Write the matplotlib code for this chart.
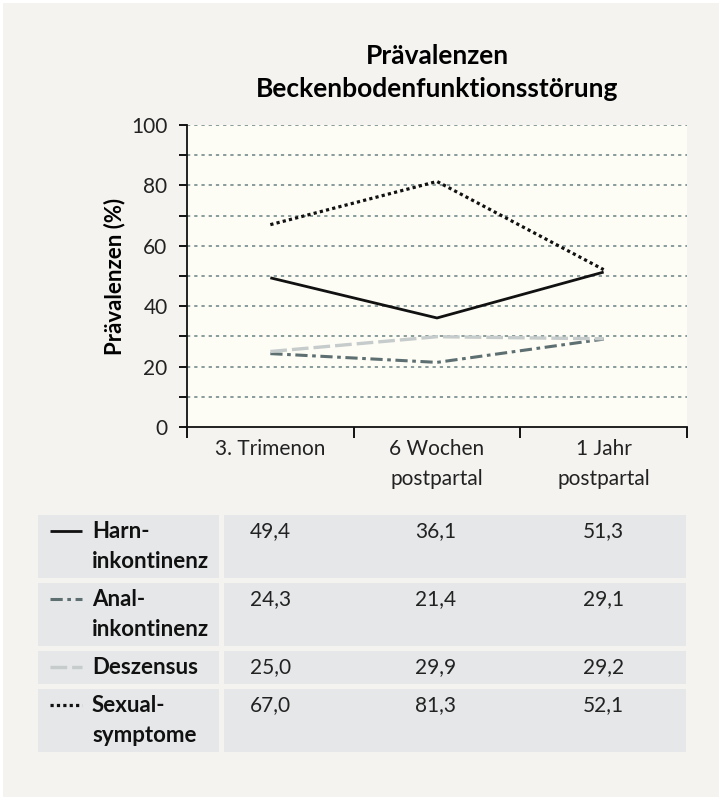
import matplotlib
matplotlib.use("Agg")
import matplotlib.pyplot as plt
from matplotlib.patches import Rectangle

plt.rcParams['font.family'] = ['Lato', 'DejaVu Sans']

# data
categories = ['3. Trimenon', '6 Wochen\npostpartal', '1 Jahr\npostpartal']
series_names = ['Harn-\ninkontinenz', 'Anal-\ninkontinenz', 'Deszensus', 'Sexual-\nsymptome']
harn = [49.4, 36.1, 51.3]
anal = [24.3, 21.4, 29.1]
deszensus = [25.0, 29.9, 29.2]
sexual = [67.0, 81.3, 52.1]

# styles per series
styles = [
    dict(color='#111111', linestyle='-', linewidth=2.0),
    dict(color='#5e6f72', linestyle=(0, (4, 1.5, 1.2, 1.5)), linewidth=2.2),
    dict(color='#c6cbcb', linestyle=(0, (5, 1.5)), linewidth=2.4),
    dict(color='#111111', linestyle=(0, (1, 1)), linewidth=2.3),
]
values = [harn, anal, deszensus, sexual]

BG = '#f4f3f0'
PLOT_BG = '#fdfdf5'
CELL = '#e5e7e8'
W, H = 722, 800

fig = plt.figure(figsize=(W / 100, H / 100), dpi=100, facecolor='white')

# full-figure canvas in pixel coordinates for background and table
canvas = fig.add_axes([0, 0, 1, 1], zorder=0)
canvas.set_xlim(0, W)
canvas.set_ylim(H, 0)
canvas.axis('off')
canvas.add_patch(Rectangle((3, 3), W - 6, H - 6, facecolor=BG, edgecolor='none'))

# chart
ax = fig.add_axes([187 / W, 1 - 427 / H, 500 / W, 302 / H], zorder=1)
ax.set_facecolor(PLOT_BG)
xs = [i + 0.5 for i in range(len(categories))]
for vals, st in zip(values, styles):
    ax.plot(xs, vals, solid_capstyle='butt', dash_capstyle='butt', zorder=3, **st)

ax.set_xlim(0, 3)
ax.set_ylim(0, 100)
yt = list(range(0, 101, 10))
ax.set_yticks(yt)
ax.set_yticklabels([str(v) if v % 20 == 0 else '' for v in yt], fontsize=15, color='#222222')
for v in yt[1:]:
    ax.axhline(v, color='#7f9393', linewidth=1.3, linestyle=(0, (1.8, 2.2)), zorder=1)
ax.set_xticks([0, 1, 2, 3])
ax.set_xticklabels([])
ax.set_xticks(xs, minor=True)
ax.set_xticklabels(categories, minor=True, fontsize=15, color='#222222', linespacing=1.6)
ax.tick_params(axis='x', which='major', direction='out', length=8, width=1.3)
ax.tick_params(axis='x', which='minor', length=0, pad=9)
ax.tick_params(axis='y', direction='out', length=6, width=1.3, pad=8)
for s in ['top', 'right']:
    ax.spines[s].set_visible(False)
for s in ['left', 'bottom']:
    ax.spines[s].set_linewidth(1.3)
    ax.spines[s].set_color('#111111')
ax.set_ylabel('Prävalenzen (%)', fontsize=16, fontweight='bold', labelpad=4)

fig.text(437 / W, 1 - 56 / H, 'Prävalenzen', ha='center', va='center',
         fontsize=19, fontweight='bold')
fig.text(437 / W, 1 - 89 / H, 'Beckenbodenfunktionsstörung', ha='center', va='center',
         fontsize=19, fontweight='bold')

# table
rows = [(515, 578), (583, 646), (651, 684), (689, 752)]
value_x = [250, 415, 583]
for (top, bot), name, vals, st in zip(rows, series_names, values, styles):
    canvas.add_patch(Rectangle((38, top), 219 - 38, bot - top, facecolor=CELL, edgecolor='none'))
    canvas.add_patch(Rectangle((224, top), 686 - 224, bot - top, facecolor=CELL, edgecolor='none'))
    ty = top + 16
    canvas.plot([50, 82], [ty, ty], solid_capstyle='butt', dash_capstyle='butt', **st)
    for i, part in enumerate(name.split('\n')):
        canvas.text(92, ty + i * 30, part, ha='left', va='center', fontsize=16,
                    fontweight='bold', color='#111111')
    for x, v in zip(value_x, vals):
        canvas.text(x, ty, f'{v:.1f}'.replace('.', ','), ha='left', va='center',
                    fontsize=15, color='#222222')

fig.savefig('out.png', dpi=100, facecolor=fig.get_facecolor())
